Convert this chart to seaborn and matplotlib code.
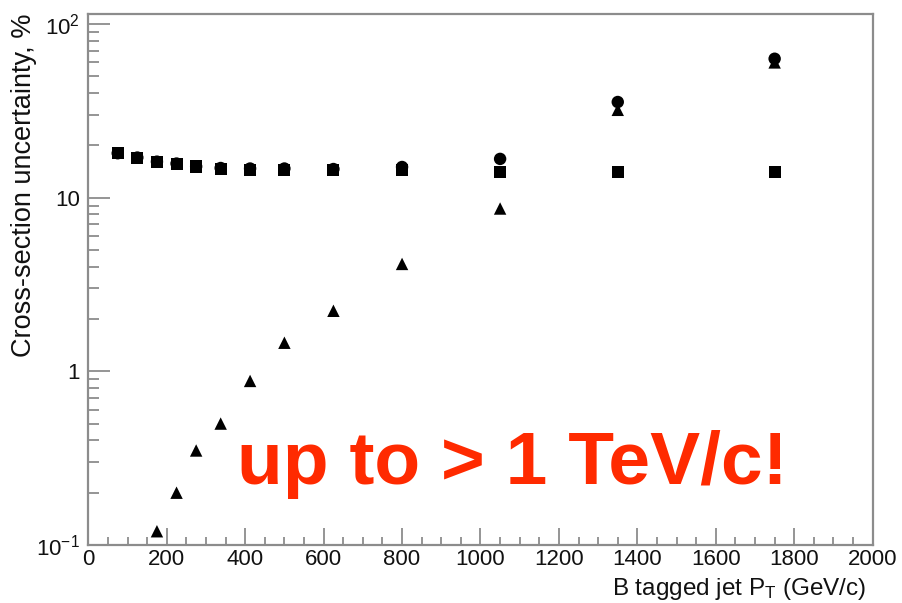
import matplotlib
matplotlib.use("Agg")
import matplotlib.pyplot as plt
import matplotlib.ticker as mticker
import numpy as np
import pandas as pd
import seaborn as sns

# b-tagged jet pT bin centres (GeV/c)
pt_bins = [75, 125, 175, 225, 275, 337.5, 412.5, 500, 625, 800, 1050, 1350, 1750]

# cross-section uncertainty components, %
syst_unc = [18.0, 17.0, 16.1, 15.7, 15.1, 14.7, 14.5, 14.4, 14.35, 14.5, 14.1, 14.1, 14.1]
stat_pt = [175, 225, 275, 337.5, 412.5, 500, 625, 800, 1050, 1350, 1750]
stat_unc = [0.12, 0.20, 0.35, 0.50, 0.88, 1.46, 2.23, 4.15, 8.65, 32.0, 60.0]
total_unc = [18.0, 17.0, 16.1, 15.7, 15.1, 14.8, 14.7, 14.7, 14.6, 15.0, 16.7, 35.5, 63.0]

x_ticks = [0, 200, 400, 600, 800, 1000, 1200, 1400, 1600, 1800, 2000]
y_ticks = [0.1, 1, 10, 100]
y_tick_labels = ["$10^{-1}$", "1", "10", "$10^{2}$"]

sns.set_theme(style="white")
plt.rcParams["font.family"] = ["Liberation Sans", "DejaVu Sans"]
plt.rcParams["mathtext.fontset"] = "custom"
plt.rcParams["mathtext.rm"] = "Liberation Sans"
plt.rcParams["mathtext.it"] = "Liberation Sans:italic"
plt.rcParams["mathtext.bf"] = "Liberation Sans:bold"

fig = plt.figure(figsize=(9.02, 6.03), dpi=100)
ax = fig.add_axes([0.0979, 0.0962, 0.8696, 0.8806])

total_df = pd.DataFrame({"pt": pt_bins, "unc": total_unc})
syst_df = pd.DataFrame({"pt": pt_bins, "unc": syst_unc})
stat_df = pd.DataFrame({"pt": stat_pt, "unc": stat_unc})

sns.scatterplot(data=total_df, x="pt", y="unc", marker="o", s=80, color="black",
                edgecolor="none", ax=ax, zorder=3)
sns.scatterplot(data=stat_df, x="pt", y="unc", marker="^", s=80, color="black",
                edgecolor="none", ax=ax, zorder=4)
sns.scatterplot(data=syst_df, x="pt", y="unc", marker="s", s=75, color="black",
                edgecolor="none", ax=ax, zorder=5)

ax.set_yscale("log")
ax.set_xlim(0, 2000)
ax.set_ylim(0.1, 114)

ax.xaxis.set_major_locator(mticker.FixedLocator(x_ticks))
ax.xaxis.set_minor_locator(mticker.MultipleLocator(50))
ax.set_xticklabels([str(t) for t in x_ticks])
ax.yaxis.set_major_locator(mticker.FixedLocator(y_ticks))
ax.yaxis.set_major_formatter(mticker.FixedFormatter(y_tick_labels))
ax.yaxis.set_minor_locator(mticker.LogLocator(base=10, subs=np.arange(2, 10), numticks=20))
ax.yaxis.set_minor_formatter(mticker.NullFormatter())

grey = "#8c8c8c"
for side in ["left", "bottom", "right", "top"]:
    ax.spines[side].set_color(grey)
    ax.spines[side].set_linewidth(1.6)

ax.tick_params(axis="both", which="both", direction="in", color=grey, width=1.3,
               labelsize=16, labelcolor="#111111", pad=6,
               bottom=True, left=True, top=False, right=False)
ax.tick_params(axis="x", which="both", pad=3)
ax.tick_params(axis="y", which="major", length=16)
ax.tick_params(axis="y", which="minor", length=8)
ax.tick_params(axis="x", which="major", length=12)
ax.tick_params(axis="x", which="minor", length=6)

ax.set_xlabel("B tagged jet P$_\\mathrm{T}$ (GeV/c)", fontsize=17.5, color="#111111",
              ha="right", va="bottom")
ax.xaxis.set_label_coords(866 / 902, 1 / 603, transform=fig.transFigure)
ax.set_ylabel("Cross-section uncertainty, %", fontsize=19.5, color="#111111",
              ha="right")
ax.yaxis.set_label_coords(-0.065, 1.0)

fig.text(0.263, 0.197, "up to > 1 TeV/c!", color="#ff2a00", fontsize=54,
         fontweight="bold", ha="left", va="baseline")

fig.savefig("out.png", dpi=100)
